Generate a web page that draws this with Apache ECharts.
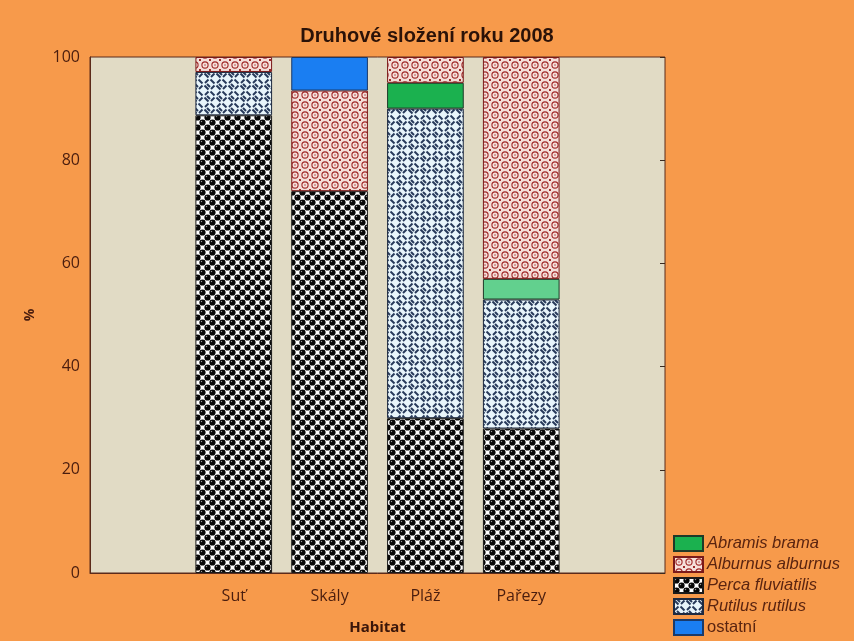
<!DOCTYPE html>
<html>
<head>
<meta charset="utf-8">
<script src="https://cdn.jsdelivr.net/npm/echarts@6/dist/echarts.min.js"></script>
<style>
  html, body { margin: 0; padding: 0; background: #f79a4b; }
  #chart { width: 854px; height: 641px; }
</style>
</head>
<body>
<div id="chart"></div>
<script>
// Habitat categories (empty slots pad both sides of the axis)
const categories = ['', 'Suť', 'Skály', 'Pláž', 'Pařezy', ''];

// Species share per habitat, % (stacked bottom to top)
const percaFluviatilis = [null, 88.7, 74, 30, 28, null];
const rutilusRutilus   = [null, 8.4, null, 60, 25, null];
const abramisBrama     = [null, null, null, 5, 4, null];
const alburnusAlburnus = [null, 2.9, 19.5, 5, 43, null];
const ostatni          = [null, null, 6.5, null, null, null];

const yTicks = [0, 20, 40, 60, 80, 100];

// ---- fill patterns ----
function makeTile(w, h, draw) {
  const c = document.createElement('canvas');
  c.width = w; c.height = h;
  draw(c.getContext('2d'), w, h);
  return c;
}

// black balls on white
const percaTile = makeTile(10, 10, (g, w, h) => {
  g.fillStyle = '#ffffff'; g.fillRect(0, 0, w, h);
  const balls = [];
  for (let x = -5; x <= 15; x += 5) {
    for (let y = -5; y <= 15; y += 5) {
      if (((x + y) / 5) % 2 === 0) balls.push([x + 2.5, y + 2.5]);
    }
  }
  balls.forEach(([x, y]) => {
    g.fillStyle = '#070707';
    g.beginPath(); g.arc(x, y, 3.1, 0, Math.PI * 2); g.fill();
    g.fillStyle = '#9a9a9a';
    g.fillRect(x - 1.6, y - 1.6, 1.2, 1.2);
  });
});

// navy weave: staggered diagonal dashes on pale blue
const rutilusTile = makeTile(12, 12, (g, w, h) => {
  g.fillStyle = '#e8f5fb'; g.fillRect(0, 0, w, h);
  g.strokeStyle = '#27395a'; g.lineWidth = 2; g.lineCap = 'butt';
  const seg = (x1, y1, x2, y2) => {
    for (const dx of [-w, 0, w]) for (const dy of [-h, 0, h]) {
      g.beginPath(); g.moveTo(x1 + dx, y1 + dy); g.lineTo(x2 + dx, y2 + dy); g.stroke();
    }
  };
  // "\" dashes
  seg(0.5, 1.5, 4.5, 5.5);
  seg(6.5, 7.5, 10.5, 11.5);
  seg(3, 0, 6, 3);
  // "/" dashes
  seg(7, 5, 10.5, 1.5);
  seg(1, 11, 4.5, 7.5);
});

// dark red rings and dots on pale pink
const alburnusTile = makeTile(10, 10, (g, w, h) => {
  g.fillStyle = '#f5dfda'; g.fillRect(0, 0, w, h);
  g.strokeStyle = '#a02828'; g.lineWidth = 1.1;
  g.beginPath(); g.arc(5, 5, 3.1, 0, Math.PI * 2); g.stroke();
  g.fillStyle = '#a02828';
  g.fillRect(4.4, 4.4, 1.2, 1.2);
  g.fillRect(0, 0, 1, 1); g.fillRect(9, 9, 1, 1); g.fillRect(9, 0, 1, 1); g.fillRect(0, 9, 1, 1);
});

const pattern = tile => ({ image: tile, repeat: 'repeat' });

const chart = echarts.init(document.getElementById('chart'), null, { renderer: 'canvas' });

const textColor = '#4a1d0e';
const frame = '#5b2a1a';

function barSeries(name, data, color, borderColor) {
  return {
    name: name,
    type: 'bar',
    stack: 'total',
    barWidth: '80%',
    data: data,
    itemStyle: { color: color, borderColor: borderColor, borderWidth: 1 },
    emphasis: { disabled: true }
  };
}

const abramisData = abramisBrama.map((v, i) =>
  i === 4 && v != null ? { value: v, itemStyle: { color: '#62d08e' } } : v);

chart.setOption({
  backgroundColor: '#f79a4b',
  animation: false,
  title: {
    text: 'Druhové složení roku 2008',
    left: 'center',
    top: 21,
    textStyle: { fontFamily: 'Liberation Sans', fontWeight: 'bold', fontSize: 20, color: '#2b1208' }
  },
  grid: {
    left: 90, right: 189, top: 57, bottom: 68,
    show: true, backgroundColor: '#e1dbc5', borderColor: frame, borderWidth: 1
  },
  legend: {
    orient: 'vertical',
    left: 673, top: 535,
    padding: 0,
    itemWidth: 29, itemHeight: 15, itemGap: 4,
    icon: 'rect',
    data: ['Abramis brama', 'Alburnus alburnus', 'Perca fluviatilis', 'Rutilus rutilus', 'ostatní'],
    formatter: n => n === 'ostatní' ? '{n|' + n + '}' : '{i|' + n + '}',
    textStyle: {
      padding: [0, 0, 0, -1],
      rich: {
        i: { fontFamily: 'Liberation Sans', fontStyle: 'italic', fontSize: 16.5, color: '#5a2410' },
        n: { fontFamily: 'Liberation Sans', fontSize: 16.5, color: '#5a2410' }
      }
    }
  },
  xAxis: {
    type: 'category',
    data: categories,
    axisLine: { show: true, lineStyle: { color: frame } },
    axisTick: { show: false },
    axisLabel: { margin: 15, fontFamily: 'Open Sans', fontSize: 16, color: textColor },
    name: 'Habitat',
    nameLocation: 'middle',
    nameGap: 47,
    nameTextStyle: { fontFamily: 'Open Sans', fontWeight: 'bold', fontSize: 15, color: '#3a160a' }
  },
  yAxis: [{
    type: 'value',
    min: 0, max: 100, interval: 20,
    axisLine: { show: true, lineStyle: { color: frame } },
    axisTick: { show: false },
    splitLine: { show: false },
    axisLabel: {
      margin: 10, fontFamily: 'Open Sans', fontSize: 16, color: textColor,
      formatter: v => yTicks.includes(v) ? String(v) : ''
    },
    name: '%',
    nameLocation: 'middle',
    nameGap: 53,
    nameRotate: 90,
    nameTextStyle: { fontFamily: 'Open Sans', fontWeight: 'bold', fontSize: 14, color: textColor }
  }, {
    type: 'value',
    position: 'right',
    min: 0, max: 100, interval: 20,
    axisLine: { show: false },
    axisTick: { show: true, inside: true, length: 5, lineStyle: { color: '#3a2a20' } },
    axisLabel: { show: false },
    splitLine: { show: false }
  }],
  series: [
    barSeries('Perca fluviatilis', percaFluviatilis, pattern(percaTile), '#1a1a1a'),
    barSeries('Rutilus rutilus', rutilusRutilus, pattern(rutilusTile), '#1e2a40'),
    barSeries('Abramis brama', abramisData, '#1bb14f', '#1e3a28'),
    barSeries('Alburnus alburnus', alburnusAlburnus, pattern(alburnusTile), '#7a1a1a'),
    barSeries('ostatní', ostatni, '#1a7ef2', '#1a3a6a')
  ]
});
</script>
</body>
</html>
